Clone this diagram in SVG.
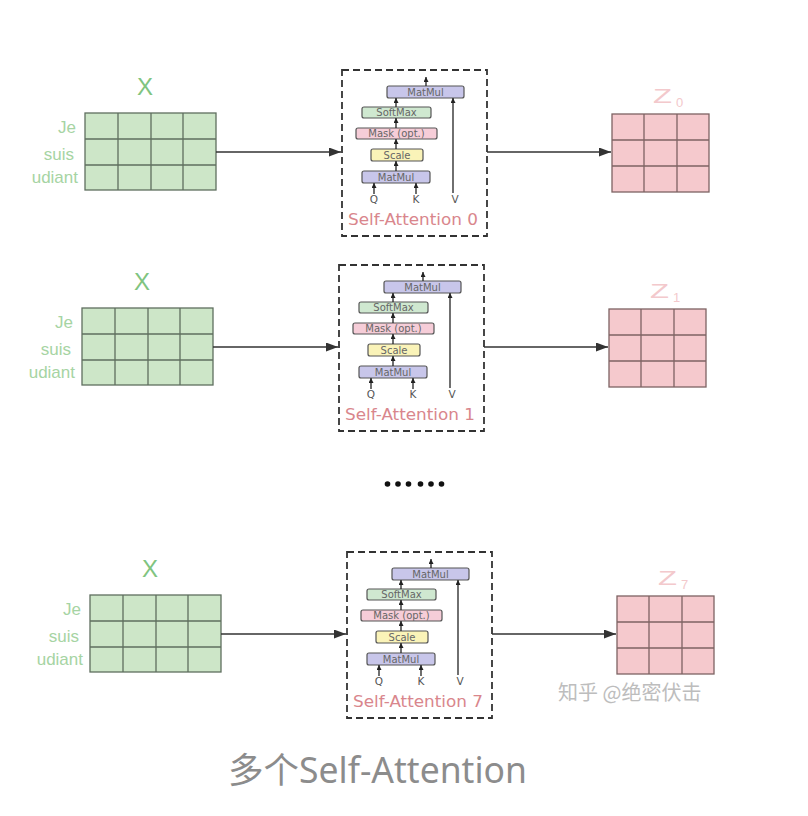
<svg xmlns="http://www.w3.org/2000/svg" width="808" height="816" viewBox="0 0 808 816">
<defs>
<marker id="arr" markerUnits="userSpaceOnUse" markerWidth="13" markerHeight="10" refX="12" refY="4.5" orient="auto"><path d="M0,0 L12,4.5 L0,9 z" fill="#333"/></marker>
<marker id="sarr" markerUnits="userSpaceOnUse" markerWidth="6" markerHeight="6" refX="5" refY="2.5" orient="auto"><path d="M0,0 L5,2.5 L0,5 z" fill="#222"/></marker>
</defs>
<style>
.xl{font-family:"Liberation Sans","Noto Sans",sans-serif;font-size:24px;fill:#80c480;text-anchor:middle}
.wl{font-family:"Liberation Sans","Noto Sans",sans-serif;font-size:17px;fill:#a6d4a3;text-anchor:end}
.gg{fill:#cde6c8;stroke:#5f6f5f;stroke-width:1.3}
.gl{stroke:#5f6f5f;stroke-width:1.3}
.pg{fill:#f5c9cd;stroke:#7d6363;stroke-width:1.3}
.pl{stroke:#7d6363;stroke-width:1.3}
.zl{font-family:"Liberation Sans","Noto Sans",sans-serif;font-size:21px;fill:#f3c9cc}
.zs{font-family:"Liberation Sans","Noto Sans",sans-serif;font-size:13px;fill:#f3c9cc}
.box{fill:none;stroke:#333;stroke-width:1.8;stroke-dasharray:7 4}
.ib{stroke:#555;stroke-width:1.2}
.it{font-family:"DejaVu Sans",sans-serif;font-size:10px;fill:#666;text-anchor:middle}
.qk{font-family:"DejaVu Sans",sans-serif;font-size:10.5px;fill:#555;text-anchor:middle}
.sa{font-family:"DejaVu Sans",sans-serif;font-size:16.5px;fill:#d9868c;text-anchor:middle}
.sl{stroke:#222;stroke-width:1.3;fill:none}
.ml{stroke:#333;stroke-width:1.6;fill:none}
</style>
<rect width="808" height="816" fill="#fff"/>

<!-- Block 0 -->
<g id="block0">
<g id="x0">
<text class="xl" x="145" y="95">X</text>
<text class="wl" x="76" y="133">Je</text>
<text class="wl" x="74" y="160">suis</text>
<text class="wl" x="78" y="183">udiant</text>
<rect class="gg" x="85" y="113" width="131" height="77"/>
<path class="gl" d="M85,139H216M85,165H216M118,113V190M151,113V190M183,113V190"/>
</g>
<g id="attn0">
<rect class="box" x="342" y="70" width="145" height="166"/>
<rect class="ib" x="387" y="86" width="77" height="12" rx="2" fill="#c8c6ea"/>
<text class="it" x="425.5" y="95.5">MatMul</text>
<rect class="ib" x="362" y="107" width="69" height="11" rx="2" fill="#cfe8d0"/>
<text class="it" x="396.5" y="116">SoftMax</text>
<rect class="ib" x="356" y="128" width="81" height="11" rx="2" fill="#f6cdd8"/>
<text class="it" x="396.5" y="137">Mask (opt.)</text>
<rect class="ib" x="371" y="149" width="52" height="12" rx="2" fill="#faf3b8"/>
<text class="it" x="397" y="158.5">Scale</text>
<rect class="ib" x="362" y="171" width="68" height="12" rx="2" fill="#c8c6ea"/>
<text class="it" x="396" y="180.5">MatMul</text>
<path class="sl" marker-end="url(#sarr)" d="M426,86V77"/>
<path class="sl" marker-end="url(#sarr)" d="M396,107V98"/>
<path class="sl" marker-end="url(#sarr)" d="M396,128V118"/>
<path class="sl" marker-end="url(#sarr)" d="M396,149V139"/>
<path class="sl" marker-end="url(#sarr)" d="M396,171V161"/>
<path class="sl" marker-end="url(#sarr)" d="M374,194V183"/>
<path class="sl" marker-end="url(#sarr)" d="M416,194V183"/>
<path class="sl" marker-end="url(#sarr)" d="M453,193V98"/>
<text class="qk" x="374" y="203">Q</text>
<text class="qk" x="416" y="203">K</text>
<text class="qk" x="455" y="203">V</text>
<text class="sa" x="413" y="225" textLength="130" lengthAdjust="spacingAndGlyphs">Self-Attention 0</text>
</g>
<g id="z0">
<text class="zl" x="653" y="103" textLength="19" lengthAdjust="spacingAndGlyphs">Z</text>
<text class="zs" x="676" y="107">0</text>
<rect class="pg" x="612" y="114" width="97" height="78"/>
<path class="pl" d="M612,140H709M612,166H709M644,114V192M677,114V192"/>
</g>
</g>

<!-- Block 1 -->
<g id="block1" transform="translate(-3,195)">
<g id="x1">
<text class="xl" x="145" y="95">X</text>
<text class="wl" x="76" y="133">Je</text>
<text class="wl" x="74" y="160">suis</text>
<text class="wl" x="78" y="183">udiant</text>
<rect class="gg" x="85" y="113" width="131" height="77"/>
<path class="gl" d="M85,139H216M85,165H216M118,113V190M151,113V190M183,113V190"/>
</g>
<g id="attn1">
<rect class="box" x="342" y="70" width="145" height="166"/>
<rect class="ib" x="387" y="86" width="77" height="12" rx="2" fill="#c8c6ea"/>
<text class="it" x="425.5" y="95.5">MatMul</text>
<rect class="ib" x="362" y="107" width="69" height="11" rx="2" fill="#cfe8d0"/>
<text class="it" x="396.5" y="116">SoftMax</text>
<rect class="ib" x="356" y="128" width="81" height="11" rx="2" fill="#f6cdd8"/>
<text class="it" x="396.5" y="137">Mask (opt.)</text>
<rect class="ib" x="371" y="149" width="52" height="12" rx="2" fill="#faf3b8"/>
<text class="it" x="397" y="158.5">Scale</text>
<rect class="ib" x="362" y="171" width="68" height="12" rx="2" fill="#c8c6ea"/>
<text class="it" x="396" y="180.5">MatMul</text>
<path class="sl" marker-end="url(#sarr)" d="M426,86V77"/>
<path class="sl" marker-end="url(#sarr)" d="M396,107V98"/>
<path class="sl" marker-end="url(#sarr)" d="M396,128V118"/>
<path class="sl" marker-end="url(#sarr)" d="M396,149V139"/>
<path class="sl" marker-end="url(#sarr)" d="M396,171V161"/>
<path class="sl" marker-end="url(#sarr)" d="M374,194V183"/>
<path class="sl" marker-end="url(#sarr)" d="M416,194V183"/>
<path class="sl" marker-end="url(#sarr)" d="M453,193V98"/>
<text class="qk" x="374" y="203">Q</text>
<text class="qk" x="416" y="203">K</text>
<text class="qk" x="455" y="203">V</text>
<text class="sa" x="413" y="225" textLength="130" lengthAdjust="spacingAndGlyphs">Self-Attention 1</text>
</g>
<g id="z1">
<text class="zl" x="653" y="103" textLength="19" lengthAdjust="spacingAndGlyphs">Z</text>
<text class="zs" x="676" y="107">1</text>
<rect class="pg" x="612" y="114" width="97" height="78"/>
<path class="pl" d="M612,140H709M612,166H709M644,114V192M677,114V192"/>
</g>
</g>

<!-- Block 7 -->
<g id="block7" transform="translate(5,482)">
<g id="x7">
<text class="xl" x="145" y="95">X</text>
<text class="wl" x="76" y="133">Je</text>
<text class="wl" x="74" y="160">suis</text>
<text class="wl" x="78" y="183">udiant</text>
<rect class="gg" x="85" y="113" width="131" height="77"/>
<path class="gl" d="M85,139H216M85,165H216M118,113V190M151,113V190M183,113V190"/>
</g>
<g id="attn7">
<rect class="box" x="342" y="70" width="145" height="166"/>
<rect class="ib" x="387" y="86" width="77" height="12" rx="2" fill="#c8c6ea"/>
<text class="it" x="425.5" y="95.5">MatMul</text>
<rect class="ib" x="362" y="107" width="69" height="11" rx="2" fill="#cfe8d0"/>
<text class="it" x="396.5" y="116">SoftMax</text>
<rect class="ib" x="356" y="128" width="81" height="11" rx="2" fill="#f6cdd8"/>
<text class="it" x="396.5" y="137">Mask (opt.)</text>
<rect class="ib" x="371" y="149" width="52" height="12" rx="2" fill="#faf3b8"/>
<text class="it" x="397" y="158.5">Scale</text>
<rect class="ib" x="362" y="171" width="68" height="12" rx="2" fill="#c8c6ea"/>
<text class="it" x="396" y="180.5">MatMul</text>
<path class="sl" marker-end="url(#sarr)" d="M426,86V77"/>
<path class="sl" marker-end="url(#sarr)" d="M396,107V98"/>
<path class="sl" marker-end="url(#sarr)" d="M396,128V118"/>
<path class="sl" marker-end="url(#sarr)" d="M396,149V139"/>
<path class="sl" marker-end="url(#sarr)" d="M396,171V161"/>
<path class="sl" marker-end="url(#sarr)" d="M374,194V183"/>
<path class="sl" marker-end="url(#sarr)" d="M416,194V183"/>
<path class="sl" marker-end="url(#sarr)" d="M453,193V98"/>
<text class="qk" x="374" y="203">Q</text>
<text class="qk" x="416" y="203">K</text>
<text class="qk" x="455" y="203">V</text>
<text class="sa" x="413" y="225" textLength="130" lengthAdjust="spacingAndGlyphs">Self-Attention 7</text>
</g>
<g id="z7">
<text class="zl" x="653" y="103" textLength="19" lengthAdjust="spacingAndGlyphs">Z</text>
<text class="zs" x="676" y="107">7</text>
<rect class="pg" x="612" y="114" width="97" height="78"/>
<path class="pl" d="M612,140H709M612,166H709M644,114V192M677,114V192"/>
</g>
</g>

<g id="connectors">
<path class="ml" marker-end="url(#arr)" d="M216,152H341"/>
<path class="ml" marker-end="url(#arr)" d="M487,152H611"/>
<path class="ml" marker-end="url(#arr)" d="M213,347H338"/>
<path class="ml" marker-end="url(#arr)" d="M484,347H608"/>
<path class="ml" marker-end="url(#arr)" d="M221,634H346"/>
<path class="ml" marker-end="url(#arr)" d="M492,634H616"/>
</g>

<g id="ellipsis" fill="#111">
<circle cx="387.5" cy="484" r="2.8"/>
<circle cx="398" cy="484" r="2.8"/>
<circle cx="408.5" cy="484" r="2.8"/>
<circle cx="420.5" cy="484" r="2.8"/>
<circle cx="431" cy="484" r="2.8"/>
<circle cx="441.5" cy="484" r="2.8"/>
</g>

<text id="watermark" x="558" y="700" font-family="'Noto Sans CJK SC',sans-serif" font-size="20" fill="#bdbdbd">知乎 @绝密伏击</text>

<text id="title" x="228" y="783" font-family="'Noto Sans','Noto Sans CJK SC',sans-serif" font-size="35.5" fill="#8c8c8c">多个Self-Attention</text>
</svg>
